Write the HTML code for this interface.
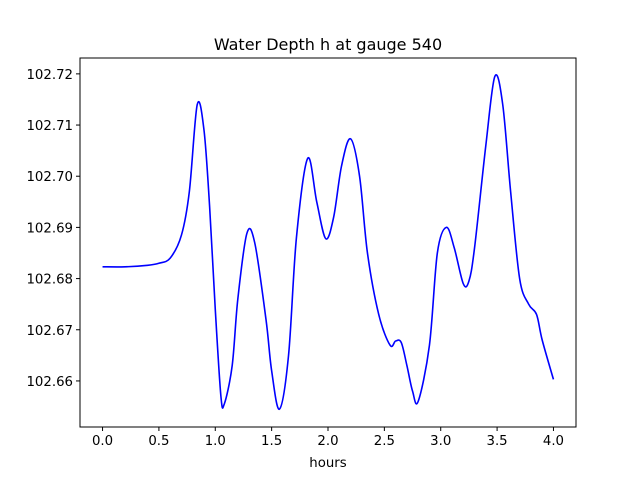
<!DOCTYPE html>
<html><head><meta charset="utf-8"><style>
body{margin:0;background:#fff;}
svg text{font-family:"DejaVu Sans","Liberation Sans",sans-serif;fill:#000;}
</style></head><body>
<svg id="chart" width="640" height="480" viewBox="0 0 640 480" xmlns="http://www.w3.org/2000/svg">
<rect width="640" height="480" fill="#fff"/>
<text x="328" y="50" font-size="16" text-anchor="middle">Water Depth h at gauge 540</text>
<text x="328" y="467" font-size="13.3" text-anchor="middle">hours</text>
<g id="ticks"></g>
<path id="line" fill="none" stroke="#0000ff" stroke-width="1.6"/>
<rect x="80" y="58" width="496" height="369" fill="none" stroke="#000" stroke-width="1"/>
</svg>
<script>
const hours=[0,0.2,0.4,0.5,0.6,0.7,0.77,0.84,0.9,0.95,1.0,1.05,1.08,1.15,1.2,1.28,1.35,1.45,1.5,1.57,1.65,1.72,1.82,1.9,1.98,2.05,2.12,2.2,2.28,2.35,2.45,2.55,2.6,2.65,2.7,2.75,2.8,2.9,2.97,3.05,3.12,3.2,3.25,3.3,3.4,3.48,3.55,3.62,3.7,3.78,3.85,3.9,4.0];
const depth=[102.6823,102.6823,102.6826,102.6830,102.6840,102.6885,102.697,102.714,102.709,102.694,102.674,102.657,102.6555,102.663,102.676,102.6888,102.687,102.672,102.662,102.6545,102.665,102.688,102.7035,102.695,102.6878,102.692,102.702,102.7073,102.700,102.685,102.673,102.667,102.6678,102.6675,102.663,102.658,102.656,102.667,102.685,102.690,102.686,102.679,102.6795,102.686,102.706,102.7195,102.714,102.697,102.680,102.675,102.673,102.668,102.6603];
const xTicks=[0,0.5,1,1.5,2,2.5,3,3.5,4];
const xTickLabels=["0.0","0.5","1.0","1.5","2.0","2.5","3.0","3.5","4.0"];
const yTicks=[102.66,102.67,102.68,102.69,102.70,102.71,102.72];
const yTickLabels=["102.66","102.67","102.68","102.69","102.70","102.71","102.72"];
const L=80,R=576,T=58,B=427;
const xmin=-0.2,xmax=4.2,ymin=102.651,ymax=102.7231;
const sx=v=>L+(v-xmin)/(xmax-xmin)*(R-L);
const sy=v=>B-(v-ymin)/(ymax-ymin)*(B-T);
const NS="http://www.w3.org/2000/svg";
const g=document.getElementById('ticks');
function mk(tag,attrs){const e=document.createElementNS(NS,tag);for(const k in attrs)e.setAttribute(k,attrs[k]);return e;}
xTicks.forEach((t,i)=>{
  const l=mk('line',{x1:sx(t),x2:sx(t),y1:B,y2:B+4,stroke:'#000'});
  
  
  g.appendChild(l);
  const tx=mk('text',{x:sx(t),y:B+18,'font-size':13.3,'text-anchor':'middle'});
  
  
  tx.textContent=xTickLabels[i];g.appendChild(tx);
});
yTicks.forEach((t,i)=>{
  const l=mk('line',{x1:L-4,x2:L,y1:sy(t),y2:sy(t),stroke:'#000'});
  
  
  g.appendChild(l);
  const tx=mk('text',{x:L-7,y:sy(t)+5,'font-size':13.3,'text-anchor':'end'});
  
  
  tx.textContent=yTickLabels[i];g.appendChild(tx);
});
const P=hours.map((h,i)=>[sx(h),sy(depth[i])]);
let d='M'+P[0][0]+','+P[0][1];
for(let i=0;i<P.length-1;i++){
  const p0=P[Math.max(0,i-1)],p1=P[i],p2=P[i+1],p3=P[Math.min(P.length-1,i+2)];
  const c1=[p1[0]+(p2[0]-p0[0])/6,p1[1]+(p2[1]-p0[1])/6];
  const c2=[p2[0]-(p3[0]-p1[0])/6,p2[1]-(p3[1]-p1[1])/6];
  d+=` C${c1[0]},${c1[1]} ${c2[0]},${c2[1]} ${p2[0]},${p2[1]}`;
}
document.getElementById('line').setAttribute('d',d);
</script>
</body></html>
